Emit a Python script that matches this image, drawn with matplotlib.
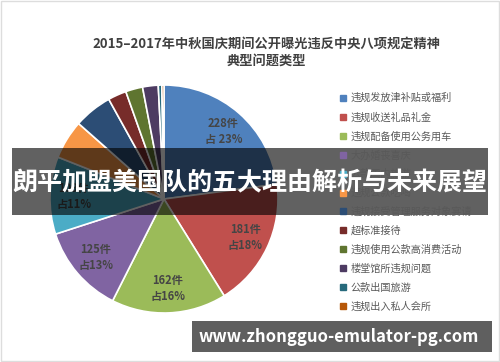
import matplotlib.pyplot as plt
from matplotlib.patches import Rectangle
from matplotlib.lines import Line2D
import numpy as np

plt.rcParams['font.family'] = ['Noto Sans CJK SC', 'DejaVu Sans']

# ---------------- data ----------------
categories = ['违规发放津补贴或福利', '违规收送礼品礼金', '违规配备使用公务用车',
              '大办婚丧喜庆', '公款国内旅游', '违规公款吃喝',
              '违规接受管理服务对象宴请', '超标准接待', '违规使用公款高消费活动',
              '楼堂馆所违规问题', '公款出国旅游', '违规出入私人会所']
counts = [228, 181, 162, 125, 109, 55, 54, 26, 24, 22, 5, 3]
percents = [23, 18, 16, 13, 11, 6, 5, 3, 2, 2, 1, 0]
colors = ['#4F81BD', '#C0504D', '#9BBB59', '#8064A2', '#4BACC6', '#F79646',
          '#2C4D75', '#772C2A', '#5F7530', '#4D3B62', '#276A7C', '#B65708']
n_labeled = 5

title = '2015–2017年中秋国庆期间公开曝光违反中央八项规定精神\n典型问题类型'
banner = '朗平加盟美国队的五大理由解析与未来展望'
watermark = 'www.zhongguo-emulator-pg.com'

W, H = 500, 362
fig = plt.figure(figsize=(W / 100, H / 100), dpi=100)
fig.patch.set_facecolor('white')

# pie axes: center (164, 199) px from top-left, radius 114 px
cx, cy, r = 164, 199, 114
ax = fig.add_axes([(cx - r) / W, (H - cy - r) / H, 2 * r / W, 2 * r / H])
wedges, _ = ax.pie(counts, colors=colors, startangle=90, counterclock=False,
                   wedgeprops=dict(edgecolor='white', linewidth=1.2))
ax.set_xlim(-1, 1)
ax.set_ylim(-1, 1)

for i in range(n_labeled):
    w = wedges[i]
    ang = np.deg2rad((w.theta1 + w.theta2) / 2)
    x, y = 0.79 * np.cos(ang), 0.79 * np.sin(ang)
    pct = '占 %d%%' % percents[i] if i == 0 else '占%d%%' % percents[i]
    ax.text(x, y, '%d件\n%s' % (counts[i], pct), ha='center', va='center',
            fontsize=8, color='#454545', fontweight='bold', linespacing=1.3)

# title
fig.text(266 / W, 1 - 52 / H, title, ha='center', va='center', fontsize=9.5,
         fontweight='bold', color='#404040', linespacing=1.25)

# legend
handles = [Line2D([], [], marker='s', linestyle='none', markersize=4,
                  markerfacecolor=c, markeredgecolor=c) for c in colors]
fig.legend(handles, categories, loc='upper left',
           bbox_to_anchor=(335 / W, 1 - 88 / H), frameon=False, fontsize=7.3,
           labelcolor='#595959', handlelength=0.6, handletextpad=0.45,
           labelspacing=0.86, borderpad=0)

# overlay banner
fig.patches.append(Rectangle((12 / W, 1 - 215 / H), 476 / W, 67 / H,
                             transform=fig.transFigure, facecolor='black',
                             alpha=0.62, edgecolor='none', zorder=5))
fig.text(250 / W, 1 - 183 / H, banner, ha='center', va='center', fontsize=18,
         fontweight='bold', color='white', zorder=6)

# watermark box
fig.patches.append(Rectangle((192 / W, 1 - 352 / H), 300 / W, 31 / H,
                             transform=fig.transFigure, facecolor='#5f5f5f',
                             edgecolor='none', zorder=5))
fig.text(339 / W, 1 - 337 / H, watermark, ha='center', va='center',
         fontsize=12, fontweight='bold', color='white', zorder=6)

# thin frame
fig.patches.append(Rectangle((0.002, 0.002), 0.996, 0.996, transform=fig.transFigure,
                             facecolor='none', edgecolor='#dddddd', linewidth=1))

fig.savefig('out.png', dpi=100)
